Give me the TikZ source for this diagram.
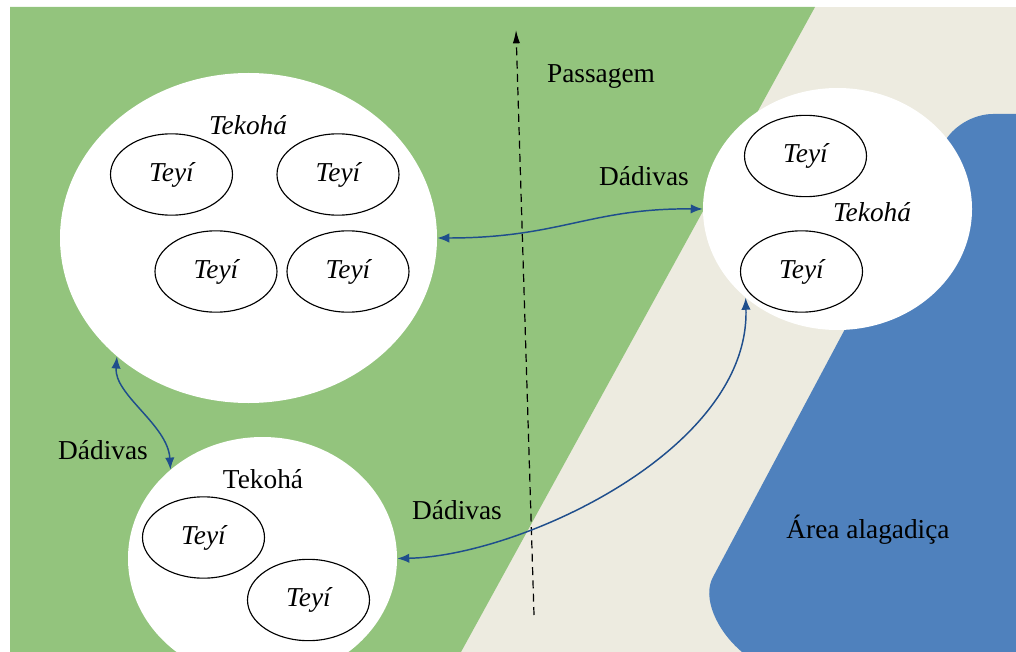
\documentclass[tikz,border=0pt]{standalone}
\usepackage{fontspec}
\setmainfont{Liberation Serif}
\usetikzlibrary{shapes.geometric,arrows.meta}

\definecolor{mata}{RGB}{147,196,125}
\definecolor{campo}{RGB}{237,235,224}
\definecolor{agua}{RGB}{79,129,189}
\definecolor{trilha}{RGB}{31,78,140}

\tikzset{
  tekoha/.style={ellipse,fill=white,inner sep=0pt},
  teyi/.style={ellipse,draw=black,line width=0.85pt,inner sep=0pt,
    minimum width=91.5pt,minimum height=61pt,
    font=\fontsize{20.5}{24}\selectfont\itshape},
  rotulo/.style={inner sep=0pt,font=\fontsize{20.5}{24}\selectfont},
  dadiva/.style={trilha,line width=1.1pt,
    {Latex[length=9pt,width=7pt]}-{Latex[length=9pt,width=7pt]}},
}

\begin{document}
\begin{tikzpicture}[x=0.75pt,y=0.75pt,yscale=-1,xscale=1]
\useasboundingbox (0,0) rectangle (1016,652);

% ground: open field, forest strip and flooded area
\fill[campo] (10,7) rectangle (1016,652);
\fill[mata] (10,7) -- (815,7) -- (461,652) -- (10,652) -- cycle;
\begin{scope}
\clip (10,7) rectangle (1016,652);
\fill[agua] (1030,114) -- (993,114) .. controls (973,114) and (952,127) .. (944,143)
  -- (713,577) .. controls (702,597) and (716,630) .. (742,652) -- (1030,652) -- cycle;
\end{scope}

%Straight Lines: passage
\coordinate (pasBaixo) at (534,615);
\coordinate (pasTopo) at (516,30);
\draw[line width=0.9pt,dash pattern=on 6pt off 4pt,-{Latex[length=10pt,width=5.5pt]}] (pasBaixo) -- (pasTopo);

%Shape: Ellipse (big tekoha)
\node[tekoha,minimum width=282.75pt,minimum height=247.5pt] (tekA) at (248.5,238) {};
%Shape: Ellipse (right tekoha)
\node[tekoha,minimum width=201.75pt,minimum height=181.5pt] (tekB) at (837.5,209) {};
%Shape: Ellipse (lower tekoha)
\node[tekoha,minimum width=201.75pt,minimum height=182.25pt] (tekC) at (262.5,558.5) {};

% families
\node[teyi] (teyA1) at (171.5,174.5) {Teyí};
\node[teyi] (teyA2) at (338,174.5) {Teyí};
\node[teyi] (teyA3) at (216,271.5) {Teyí};
\node[teyi] (teyA4) at (348,271.5) {Teyí};
\node[teyi] (teyB1) at (805.5,156) {Teyí};
\node[teyi] (teyB2) at (801.5,271.5) {Teyí};
\node[teyi] (teyC1) at (203.5,537.5) {Teyí};
\node[teyi] (teyC2) at (308.5,600) {Teyí};

% exchanges
\draw[dadiva] (tekA.east) .. controls (560,238) and (590,208) .. (tekB.west);
\draw[dadiva] (tekA.222) .. controls (114,395) and (168,425) .. (tekC.136);
\draw[dadiva] (tekC.east) .. controls (520,556) and (750,450) .. (tekB.224);

% Text Node
\node[rotulo,font=\fontsize{20.5}{24}\selectfont\itshape] (nomeA) at (248,125) {Tekohá};
% Text Node
\node[rotulo,font=\fontsize{20.5}{24}\selectfont\itshape] (nomeB) at (872,212) {Tekohá};
% Text Node
\node[rotulo] (nomeC) at (263,479) {Tekohá};
% Text Node
\node[rotulo] (passagem) at (601,77) {Passagem};
% Text Node
\node[rotulo] (dadAB) at (644,176) {Dádivas};
% Text Node
\node[rotulo] (dadAC) at (103,450) {Dádivas};
% Text Node
\node[rotulo] (dadCB) at (457,510) {Dádivas};
% Text Node
\node[rotulo] (alagado) at (868,530) {Área alagadiça};

\end{tikzpicture}
\end{document}
